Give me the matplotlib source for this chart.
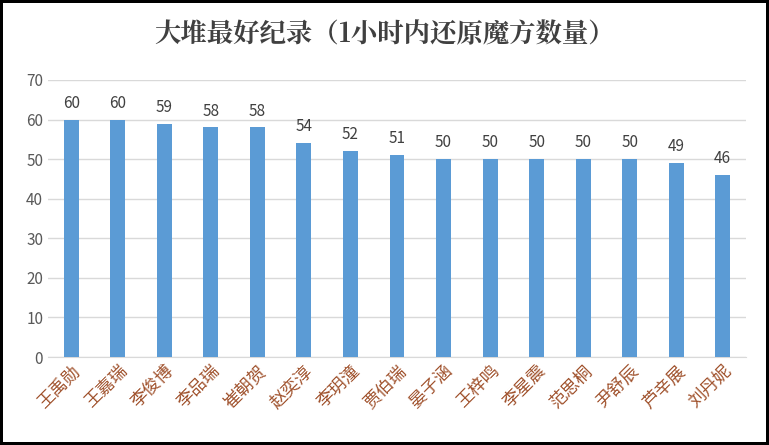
import matplotlib
matplotlib.use('Agg')
import matplotlib.pyplot as plt

plt.rcParams['font.family'] = ['Noto Sans CJK SC', 'DejaVu Sans']

names = ['王禹勋', '王嘉瑞', '李俊博', '李品瑞', '崔朝贺', '赵奕淳', '李玥潼', '贾伯瑞',
         '晏子涵', '王梓鸣', '李星震', '范思桐', '尹舒辰', '芦辛展', '刘丹妮']
values = [60, 60, 59, 58, 58, 54, 52, 51, 50, 50, 50, 50, 50, 49, 46]

fig = plt.figure(figsize=(7.69, 4.45), dpi=100)
fig.patch.set_edgecolor('black')
fig.patch.set_linewidth(4)
ax = fig.add_axes([48/769, 1 - 357/445, 698/769, 277/445])

x = range(len(names))
ax.bar(x, values, width=0.32, color='#5B9BD5', zorder=3)
for xi, v in zip(x, values):
    ax.text(xi, v + 2, str(v), ha='center', va='bottom', fontsize=11, color='#404040')

ax.set_ylim(0, 70)
ax.set_xlim(-0.5, len(names) - 0.5)
ax.set_yticks(range(0, 71, 10))
ax.grid(axis='y', color='#D9D9D9', linewidth=1, zorder=0)
for s in ['top', 'right', 'left']:
    ax.spines[s].set_visible(False)
ax.spines['bottom'].set_color('#D9D9D9')
ax.tick_params(axis='both', length=0, labelsize=11, labelcolor='#595959')
ax.set_xticks(list(x))
ax.set_xticklabels(names, rotation=45, ha='right', rotation_mode='anchor',
                   fontsize=12.5, color='#A0522D')

fig.text(0.5, 1 - 35/445, '大堆最好纪录（1小时内还原魔方数量）', ha='center', va='center',
         fontsize=19, fontweight='bold', color='#404040',
         family=['Noto Serif CJK SC', 'Noto Sans CJK SC', 'DejaVu Sans'])

fig.savefig('out.png', dpi=100, edgecolor=fig.get_edgecolor())
